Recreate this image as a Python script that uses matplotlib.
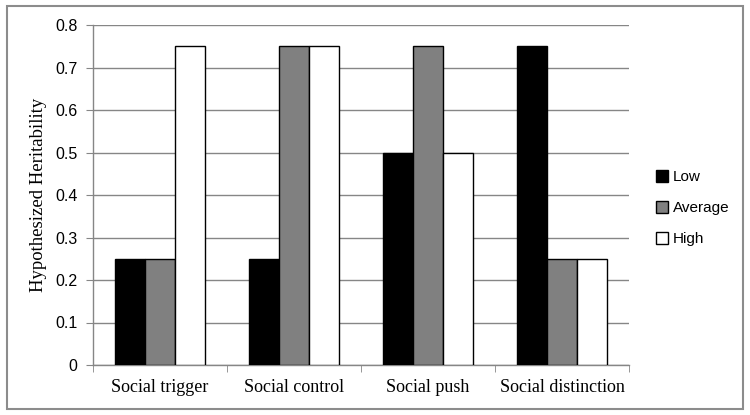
import matplotlib.pyplot as plt
import matplotlib.patches as patches
import numpy as np

categories = ["Social trigger", "Social control", "Social push", "Social distinction"]
series_names = ["Low", "Average", "High"]
low = [0.25, 0.25, 0.50, 0.75]
average = [0.25, 0.75, 0.75, 0.25]
high = [0.75, 0.75, 0.50, 0.25]
y_ticks = [0, 0.1, 0.2, 0.3, 0.4, 0.5, 0.6, 0.7, 0.8]
y_tick_labels = ["0", "0.1", "0.2", "0.3", "0.4", "0.5", "0.6", "0.7", "0.8"]

colors = ["#000000", "#808080", "#ffffff"]
values = [low, average, high]

fig = plt.figure(figsize=(7.5, 4.15), dpi=100)
ax = fig.add_axes([93 / 750, 1 - 365 / 415, (629 - 93) / 750, (365 - 25) / 415])

# rahmen um die ganze grafik
fig.patches.append(patches.Rectangle((7 / 750, 6 / 415), 736 / 750, 403 / 415,
                                     transform=fig.transFigure, fill=False,
                                     edgecolor="#8c8c8c", linewidth=1.5))

x = np.arange(len(categories))
bar_w = 1 / 4.5
for i, (name, vals) in enumerate(zip(series_names, values)):
    ax.bar(x + (i - 1) * bar_w, vals, width=bar_w, color=colors[i],
           edgecolor="black", linewidth=1.0, label=name, zorder=3)

ax.set_xlim(-0.5, len(categories) - 0.5)
ax.set_ylim(0, 0.8)
ax.set_yticks(y_ticks)
ax.set_yticklabels(y_tick_labels, family="Liberation Sans", fontsize=11.5)
ax.set_xticks(x)
ax.set_xticklabels(categories, family="Liberation Serif", fontsize=13)
ax.tick_params(axis="x", length=0, pad=10)
ax.set_xticks(np.arange(len(categories) + 1) - 0.5, minor=True)
ax.tick_params(axis="x", which="minor", length=5, color="#868686", direction="out")
ax.tick_params(axis="y", length=5, color="#868686", direction="out", pad=6)

ax.grid(axis="y", color="#868686", linewidth=1.0, zorder=0)
for side in ["top", "right"]:
    ax.spines[side].set_visible(False)
for side in ["left", "bottom"]:
    ax.spines[side].set_color("#868686")
    ax.spines[side].set_linewidth(1.0)

ax.set_ylabel("Hypothesized Heritability", family="Liberation Serif", fontsize=13.5,
              labelpad=6)

leg = fig.legend(loc="center left", bbox_to_anchor=(642 / 750, 1 - 208 / 415),
                 frameon=False, prop={"family": "Liberation Sans", "size": 11},
                 handlelength=0.8, handleheight=0.8, handletextpad=0.3,
                 labelspacing=1.1)

fig.savefig("out.png", dpi=100)
